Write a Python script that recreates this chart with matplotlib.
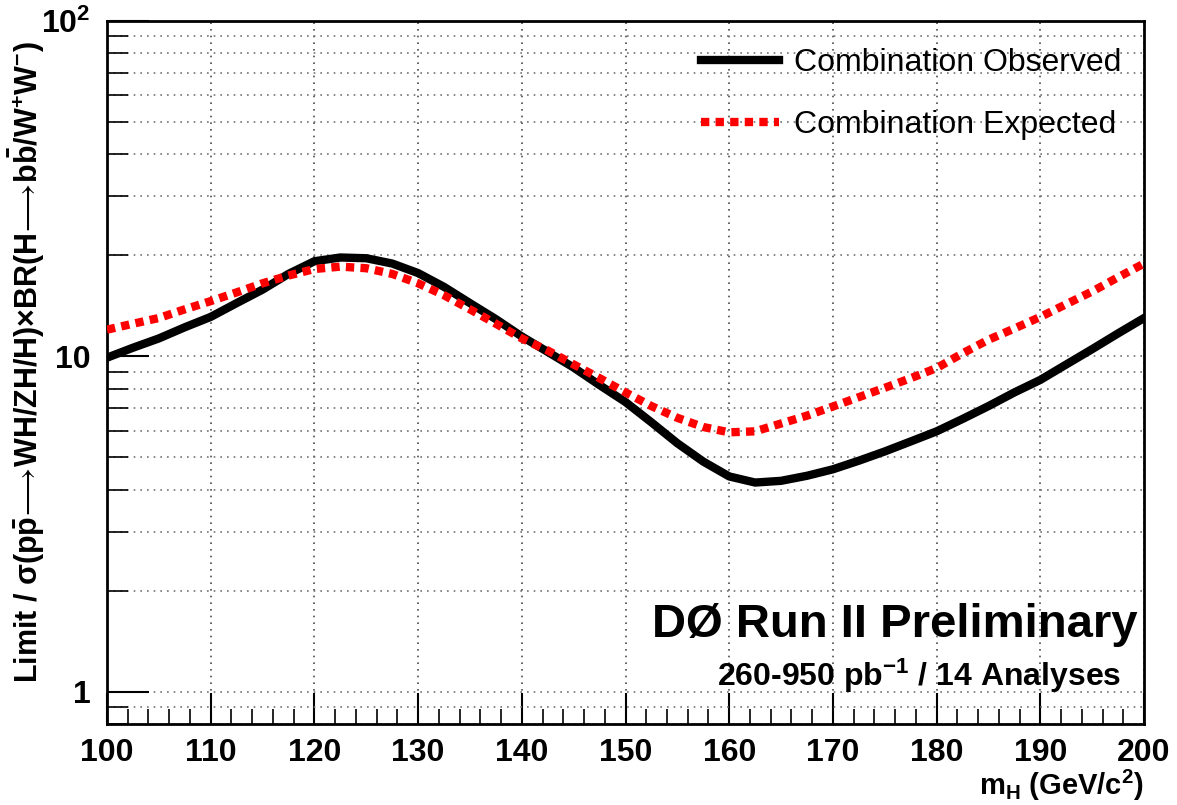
import numpy as np
import matplotlib
matplotlib.use('Agg')
import matplotlib.pyplot as plt
from matplotlib.ticker import FixedLocator, FuncFormatter, MultipleLocator, NullFormatter

# Higgs masses (GeV/c^2) and limit ratios
mass = [100, 102.5, 105, 107.5, 110, 112.5, 115, 117.5, 120, 122.5, 125, 127.5,
        130, 132.5, 135, 137.5, 140, 142.5, 145, 147.5, 150, 152.5, 155, 157.5,
        160, 162.5, 165, 167.5, 170, 172.5, 175, 177.5, 180, 182.5, 185, 187.5,
        190, 192.5, 195, 197.5, 200]
observed = [9.9, 10.6, 11.3, 12.2, 13.1, 14.4, 15.8, 17.6, 19.2, 19.7, 19.6, 18.9,
            17.7, 16.1, 14.4, 12.9, 11.45, 10.3, 9.25, 8.2, 7.3, 6.35, 5.5, 4.85,
            4.38, 4.2, 4.25, 4.4, 4.6, 4.88, 5.2, 5.57, 5.97, 6.5, 7.1, 7.8,
            8.5, 9.45, 10.5, 11.7, 13.0]
expected = [12.0, 12.5, 13.0, 13.8, 14.6, 15.5, 16.5, 17.4, 18.2, 18.5, 18.3, 17.6,
            16.5, 15.2, 13.8, 12.5, 11.3, 10.4, 9.45, 8.6, 7.8, 7.1, 6.55, 6.15,
            5.93, 5.97, 6.3, 6.65, 7.08, 7.55, 8.05, 8.6, 9.22, 10.2, 11.2, 12.1,
            13.1, 14.3, 15.6, 17.2, 18.9]

plt.rcParams['font.family'] = ['Liberation Sans', 'DejaVu Sans']
plt.rcParams['mathtext.fontset'] = 'custom'
plt.rcParams['mathtext.rm'] = 'Liberation Sans'
plt.rcParams['mathtext.it'] = 'Liberation Sans:italic'
plt.rcParams['mathtext.bf'] = 'Liberation Sans:bold'
plt.rcParams['mathtext.fallback'] = 'stixsans'

fig = plt.figure(figsize=(11.77, 8.05), dpi=100)
ax = fig.add_axes([0.0909, 0.1006, 0.8811, 0.8734])

ax.plot(mass, observed, color='black', lw=6, solid_joinstyle='round',
        label='Combination Observed', zorder=3)
ax.plot(mass, expected, color='red', lw=6, linestyle=(0, (1, 0.75)),
        label='Combination Expected', zorder=4)

ax.set_yscale('log')
ax.set_xlim(100, 200)
ax.set_ylim(0.8, 100)

# ticks ROOT style: inward, labels bold
ax.xaxis.set_major_locator(MultipleLocator(10))
ax.xaxis.set_minor_locator(MultipleLocator(2))
ax.yaxis.set_major_locator(FixedLocator([1, 10, 100]))
ax.yaxis.set_minor_locator(FixedLocator([v * d for d in (0.1, 1, 10) for v in range(2, 10)]))
ax.yaxis.set_minor_formatter(NullFormatter())


def ylab(v, pos):
    if v >= 100:
        return r'$\mathbf{10^2}$'
    return '%d' % v


ax.yaxis.set_major_formatter(FuncFormatter(ylab))
ax.tick_params(which='major', direction='in', length=22, width=1.5, labelsize=23, pad=10)
ax.tick_params(which='minor', direction='in', length=11, width=1.2)
ax.tick_params(axis='y', which='major', length=30, pad=12)
ax.tick_params(axis='y', which='minor', length=15)
for lbl in ax.get_xticklabels() + ax.get_yticklabels():
    lbl.set_fontweight('bold')

ax.grid(True, which='major', axis='x', linestyle=(0, (1, 3)), color='0.3', lw=1.2)
ax.grid(True, which='both', axis='y', linestyle=(0, (1, 3)), color='0.45', lw=1.2)
for s in ax.spines.values():
    s.set_linewidth(2)

arrow = r'$\!\longrightarrow\!$'
ylabel = ('Limit / σ(p$\\mathbf{\\bar{p}}$' + arrow + 'WH/ZH/H)×BR(H' + arrow +
          'b$\\mathbf{\\bar{b}}$/W$^\\mathbf{+}$W$^\\mathbf{-}$)')
ax.set_ylabel(ylabel, fontsize=22, fontweight='bold')
ax.yaxis.set_label_coords(-0.058, 0.515)
fig.text(0.972, 0.002, r'm$_\mathbf{H}$ (GeV/c$^\mathbf{2}$)', ha='right', va='bottom',
         fontsize=21, fontweight='bold')

ax.legend(loc='upper right', bbox_to_anchor=(1.006, 1.002), frameon=False,
          fontsize=23, handlelength=2.45, handletextpad=0.47, labelspacing=1.0)

ax.text(0.994, 0.141, 'DØ Run II Preliminary', transform=ax.transAxes,
        ha='right', va='center', fontsize=34, fontweight='bold')
ax.text(0.978, 0.068, r'260-950 pb$^\mathbf{-1}$ / 14 Analyses', transform=ax.transAxes,
        ha='right', va='center', fontsize=23, fontweight='bold')

fig.savefig('out.png', dpi=100)
